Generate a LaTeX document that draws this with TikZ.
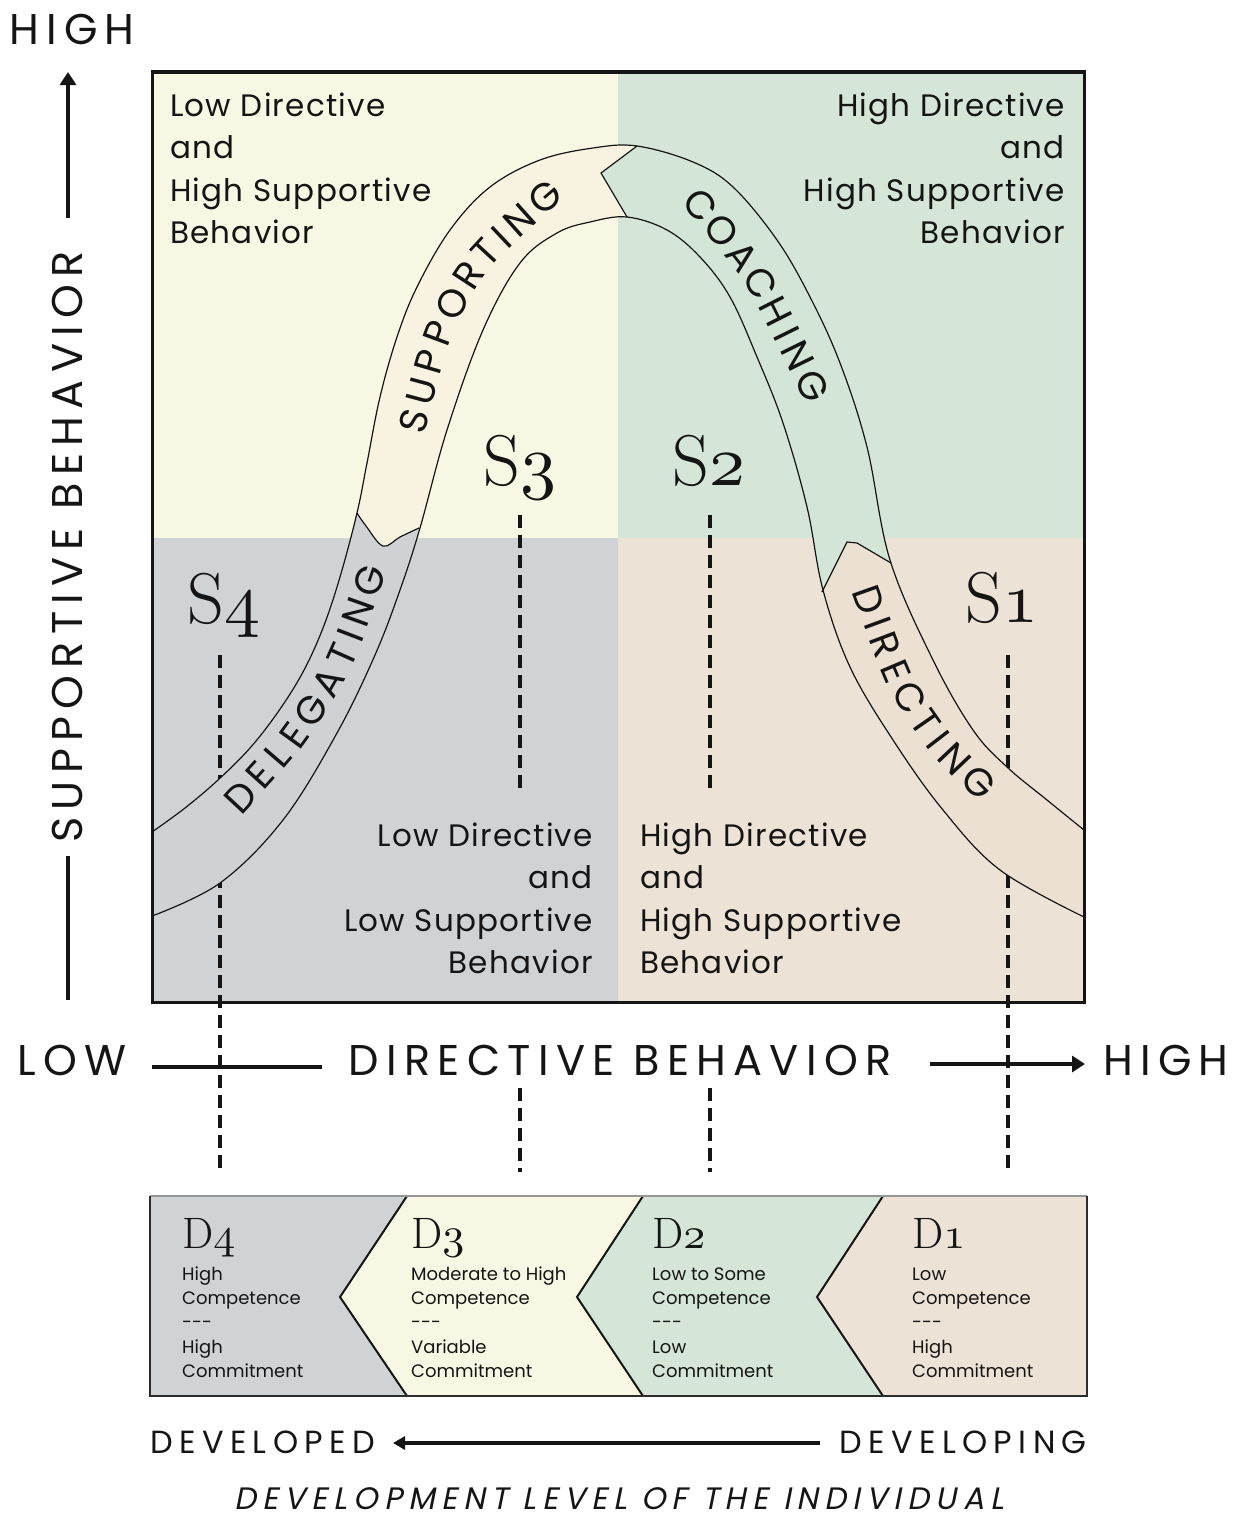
\documentclass[tikz,border=0pt]{standalone}
\usepackage{fontspec}
\usetikzlibrary{arrows.meta,decorations.markings}
\newfontfamily\pop{Poppins}
\newfontfamily\popq[LetterSpace=4]{Poppins}
\newfontfamily\popsp[LetterSpace=17]{Poppins}
\newfontfamily\popspb[LetterSpace=20]{Poppins}
\newfontfamily\popit[FakeSlant=0.2,LetterSpace=20]{Poppins}
\font\osnS=cmmi10 at 72pt
\font\osnD=cmmi10 at 44pt
\definecolor{qcream}{HTML}{F8F7E3}
\definecolor{qgreen}{HTML}{D5E6D8}
\definecolor{qgray}{HTML}{CFD3D6}
\definecolor{qbeige}{HTML}{EDE2D6}
\definecolor{bcream}{HTML}{F8F2E1}
\definecolor{bgreen}{HTML}{D2E5D6}
\definecolor{bgray}{HTML}{CED2D5}
\definecolor{bbeige}{HTML}{EBE0D2}
\definecolor{ink}{HTML}{151515}
\newcommand\qfont{\popq\fontsize{31}{42.5}\selectfont}
\newcommand\cfont{\pop\fontsize{18}{24.3}\selectfont}
\newcommand\axfont{\popsp\fontsize{43}{43}\selectfont}
\newcommand\btfont{\popspb\fontsize{32}{32}\selectfont}
\newcommand\bandf{\pop\fontsize{39}{39}\selectfont}
\tikzset{
  dashv/.style={line width=4pt, dash pattern=on 13pt off 7pt, ink},
  axline/.style={line width=4pt, ink},
  bandline/.style={line width=1.2pt, ink},
  qtext/.style={inner sep=0pt, font=\qfont, text=ink},
  ctext/.style={inner sep=0pt, font=\cfont, text=ink, align=left, anchor=north west},
  bl/.style={inner sep=0pt, transform shape, font=\bandf, text=ink, anchor=center},
  sm/.style={smooth, tension=0.6},
}
\begin{document}
\begin{tikzpicture}[x=1pt,y=-1pt]
\useasboundingbox (0,0) rectangle (1238,1520);
\fill[white] (0,0) rectangle (1238,1520);
% quadrants
\fill[qcream] (152,72) rectangle (618,538);
\fill[qgreen] (618,72) rectangle (1084,538);
\fill[qgray] (152,538) rectangle (618,1002);
\fill[qbeige] (618,538) rectangle (1084,1002);
% dashed guide lines
\coordinate (d4a) at (220,655); \coordinate (d4b) at (220,1175);
\coordinate (d3a) at (520,515); \coordinate (d3b) at (520,795);
\coordinate (d3c) at (520,1088); \coordinate (d3d) at (520,1172);
\coordinate (d2a) at (710,515); \coordinate (d2b) at (710,795);
\coordinate (d2c) at (710,1088); \coordinate (d2d) at (710,1172);
\coordinate (d1a) at (1008,655); \coordinate (d1b) at (1008,1175);
\draw[dashv] (d4a) -- (d4b);
\draw[dashv] (d3a) -- (d3b);
\draw[dashv] (d3c) -- (d3d);
\draw[dashv] (d2a) -- (d2b);
\draw[dashv] (d2c) -- (d2d);
\draw[dashv] (d1a) -- (d1b);
% band: save the shape
\path[save path=\bandp] plot[sm] coordinates {(152,832) (185,808) (218,780) (250,748) (278,712) (303,672) (323,628) (340,577) (357,513) (367,463) (380,397) (397,337) (417,287) (450,230) (490,187) (540,160) (593,148) (637,146) (693,162) (733,187) (777,240) (810,297) (840,363) (867,447) (890,560) (933,660) (973,730) (1007,767) (1047,800) (1084,830)} -- (1084,917) -- plot[sm] coordinates {(1084,917) (1000,870) (943,810) (893,740) (850,667) (823,590) (807,507) (783,423) (757,357) (730,297) (700,257) (667,230) (627,217) (590,222) (557,233) (520,263) (483,330) (447,430) (420,528) (400,590) (375,655) (337,733) (283,820) (220,883) (152,916)} -- cycle;
% band fills
\begin{scope}
\clip (140,1000) -- (140,500) -- (350,500) -- plot[sm] coordinates {(357,513) (366,526) (383,546) (400,537) (419,528)} -- (440,545) -- (440,1000) -- cycle;
\fill[bgray, use path=\bandp];
\end{scope}
\begin{scope}
\clip (300,530) -- plot[sm] coordinates {(357,513) (366,526) (383,546) (400,537) (419,528)} -- (600,520) -- (600,300) -- (627,217) -- (601,173) -- (637,146) -- (637,100) -- (300,100) -- cycle;
\fill[bcream, use path=\bandp];
\end{scope}
\begin{scope}
\clip (637,100) -- (637,146) -- (601,173) -- (627,217) -- (650,400) -- (822,592) -- (847,542) -- (857,543) -- (891,563) -- (950,500) -- (950,100) -- cycle;
\fill[bgreen, use path=\bandp];
\end{scope}
\begin{scope}
\clip (822,592) -- (847,542) -- (857,543) -- (891,563) -- (950,500) -- (1100,500) -- (1100,1000) -- (700,1000) -- (700,600) -- cycle;
\fill[bbeige, use path=\bandp];
\end{scope}
% band outlines
\begin{scope}
\clip (152,72) rectangle (1084,1002);
\draw[bandline] plot[sm] coordinates {(152,832) (185,808) (218,780) (250,748) (278,712) (303,672) (323,628) (340,577) (357,513) (367,463) (380,397) (397,337) (417,287) (450,230) (490,187) (540,160) (593,148) (637,146) (693,162) (733,187) (777,240) (810,297) (840,363) (867,447) (890,560) (933,660) (973,730) (1007,767) (1047,800) (1084,830)};
\draw[bandline] plot[sm] coordinates {(1084,917) (1000,870) (943,810) (893,740) (850,667) (823,590) (807,507) (783,423) (757,357) (730,297) (700,257) (667,230) (627,217) (590,222) (557,233) (520,263) (483,330) (447,430) (420,528) (400,590) (375,655) (337,733) (283,820) (220,883) (152,916)};
\draw[bandline] plot[sm] coordinates {(357,513) (366,526) (383,546) (400,537) (419,528)};
\draw[bandline] (637,146) -- (601,173) -- (627,217);
\draw[bandline] (822,592) -- (847,542) -- (857,543) -- (891,563);
\end{scope}
% band labels: one letter per mark along the band's centre line
\path[decorate, decoration={markings,
  mark=at position 0.040 with {\node[bl]{S};},
  mark=at position 0.143 with {\node[bl]{U};},
  mark=at position 0.249 with {\node[bl]{P};},
  mark=at position 0.350 with {\node[bl]{P};},
  mark=at position 0.461 with {\node[bl]{O};},
  mark=at position 0.574 with {\node[bl]{R};},
  mark=at position 0.672 with {\node[bl]{T};},
  mark=at position 0.746 with {\node[bl]{I};},
  mark=at position 0.831 with {\node[bl]{N};},
  mark=at position 0.949 with {\node[bl]{G};}}]
  plot[smooth] coordinates {(411,432) (440,330) (482,257) (557,188)};
\path[decorate, decoration={markings,
  mark=at position 0.052 with {\node[bl]{C};},
  mark=at position 0.190 with {\node[bl]{O};},
  mark=at position 0.328 with {\node[bl]{A};},
  mark=at position 0.462 with {\node[bl]{C};},
  mark=at position 0.597 with {\node[bl]{H};},
  mark=at position 0.700 with {\node[bl]{I};},
  mark=at position 0.805 with {\node[bl]{N};},
  mark=at position 0.945 with {\node[bl]{G};}}]
  plot[smooth] coordinates {(693,196) (749,265) (772,305) (818,398)};
\path[decorate, decoration={markings,
  mark=at position 0.045 with {\node[bl]{D};},
  mark=at position 0.150 with {\node[bl]{E};},
  mark=at position 0.243 with {\node[bl]{L};},
  mark=at position 0.336 with {\node[bl]{E};},
  mark=at position 0.444 with {\node[bl]{G};},
  mark=at position 0.561 with {\node[bl]{A};},
  mark=at position 0.667 with {\node[bl]{T};},
  mark=at position 0.745 with {\node[bl]{I};},
  mark=at position 0.833 with {\node[bl]{N};},
  mark=at position 0.952 with {\node[bl]{G};}}]
  plot[smooth] coordinates {(232,806) (292,738) (340,660) (374,568)};
\path[decorate, decoration={markings,
  mark=at position 0.052 with {\node[bl]{D};},
  mark=at position 0.155 with {\node[bl]{I};},
  mark=at position 0.251 with {\node[bl]{R};},
  mark=at position 0.367 with {\node[bl]{E};},
  mark=at position 0.489 with {\node[bl]{C};},
  mark=at position 0.611 with {\node[bl]{T};},
  mark=at position 0.703 with {\node[bl]{I};},
  mark=at position 0.806 with {\node[bl]{N};},
  mark=at position 0.945 with {\node[bl]{G};}}]
  plot[smooth] coordinates {(865,588) (900,680) (940,742) (988,792)};
% main box border
\draw[line width=3pt, ink] (152,72) rectangle (1084,1002);
% quadrant texts
\node[qtext, anchor=north west, align=left] (tl) at (170,86.25) {\strut Low Directive\\and\\High Supportive\\Behavior};
\node[qtext, anchor=north east, align=right] (tr) at (1065,86.25) {\strut High Directive\\and\\High Supportive\\Behavior};
\node[qtext, anchor=north east, align=right] (bl) at (593,816.25) {\strut Low Directive\\and\\Low Supportive\\Behavior};
\node[qtext, anchor=north west, align=left] (br) at (640,816.25) {\strut High Directive\\and\\High Supportive\\Behavior};
% S labels
\node[anchor=base, inner sep=0pt, text=ink] (s3) at (520,485) {\fontsize{72}{72}\selectfont S\osnS 3};
\node[anchor=base, inner sep=0pt, text=ink] (s2) at (709,485) {\fontsize{72}{72}\selectfont S\osnS 2};
\node[anchor=base, inner sep=0pt, text=ink] (s4) at (224,623) {\fontsize{72}{72}\selectfont S\osnS 4};
\node[anchor=base, inner sep=0pt, text=ink] (s1) at (1002,622) {\fontsize{72}{72}\selectfont S\osnS 1};
% axes
\node[anchor=base, inner sep=0pt, font=\axfont, text=ink] (hightop) at (72,45) {HIGH};
\node[rotate=90, inner sep=0pt, font=\axfont, text=ink] (supp) at (67,547) {SUPPORTIVE BEHAVIOR};
\coordinate (va1) at (68,1000); \coordinate (va2) at (68,856);
\coordinate (va3) at (68,218); \coordinate (va4) at (68,72);
\draw[axline] (va1) -- (va2);
\draw[axline, -{Triangle[length=13pt,width=16pt]}] (va3) -- (va4);
\node[anchor=base, inner sep=0pt, font=\axfont, text=ink] (low) at (72,1075) {LOW};
\node[anchor=base, inner sep=0pt, font=\axfont, text=ink] (dirb) at (620,1075) {DIRECTIVE BEHAVIOR};
\node[anchor=base, inner sep=0pt, font=\axfont, text=ink] (highr) at (1166,1075) {HIGH};
\coordinate (h1) at (152,1067); \coordinate (h2) at (322,1067);
\coordinate (h3) at (930,1064); \coordinate (h4) at (1085,1064);
\draw[axline] (h1) -- (h2);
\draw[axline, -{Triangle[length=13pt,width=16pt]}] (h3) -- (h4);
% development chevrons
\fill[qgray] (150,1196) -- (407,1196) -- (340,1297) -- (407,1396) -- (150,1396) -- cycle;
\fill[qcream] (407,1196) -- (643,1196) -- (577,1297) -- (643,1396) -- (407,1396) -- (340,1297) -- cycle;
\fill[qgreen] (643,1196) -- (883,1196) -- (817,1297) -- (883,1396) -- (643,1396) -- (577,1297) -- cycle;
\fill[qbeige] (883,1196) -- (1087,1196) -- (1087,1396) -- (883,1396) -- (817,1297) -- cycle;
\draw[line width=2pt, ink] (407,1196) -- (340,1297) -- (407,1396);
\draw[line width=2pt, ink] (643,1196) -- (577,1297) -- (643,1396);
\draw[line width=2pt, ink] (883,1196) -- (817,1297) -- (883,1396);
\draw[line width=1.4pt, ink!45] (150,1196) -- (1087,1196);
\draw[line width=1.8pt, ink!90] (1087,1196) -- (1087,1396) -- (150,1396) -- (150,1196);
\node[anchor=base west, inner sep=0pt, text=ink] (D4) at (182,1248) {\fontsize{44}{44}\selectfont D\osnD 4};
\node[anchor=base west, inner sep=0pt, text=ink] (D3) at (411,1248) {\fontsize{44}{44}\selectfont D\osnD 3};
\node[anchor=base west, inner sep=0pt, text=ink] (D2) at (652,1248) {\fontsize{44}{44}\selectfont D\osnD 2};
\node[anchor=base west, inner sep=0pt, text=ink] (D1) at (912,1248) {\fontsize{44}{44}\selectfont D\osnD 1};
\node[ctext] (t4) at (182,1263) {\strut High\\Competence\\-{}-{}-\\High\\Commitment};
\node[ctext] (t3) at (411,1263) {\strut Moderate to High\\Competence\\-{}-{}-\\Variable\\Commitment};
\node[ctext] (t2) at (652,1263) {\strut Low to Some\\Competence\\-{}-{}-\\Low\\Commitment};
\node[ctext] (t1) at (912,1263) {\strut Low\\Competence\\-{}-{}-\\High\\Commitment};
% bottom labels
\node[anchor=base west, inner sep=0pt, font=\btfont, text=ink] (developed) at (150,1453) {DEVELOPED};
\node[anchor=base east, inner sep=0pt, font=\btfont, text=ink] (developing) at (1087,1453) {DEVELOPING};
\coordinate (b1) at (820,1443); \coordinate (b2) at (393,1443);
\draw[axline, -{Triangle[length=12pt,width=13pt]}] (b1) -- (b2);
\node[anchor=base, inner sep=0pt, font=\popit\fontsize{31}{31}\selectfont, text=ink] (title) at (619,1509) {DEVELOPMENT LEVEL OF THE INDIVIDUAL};
\end{tikzpicture}
\end{document}
